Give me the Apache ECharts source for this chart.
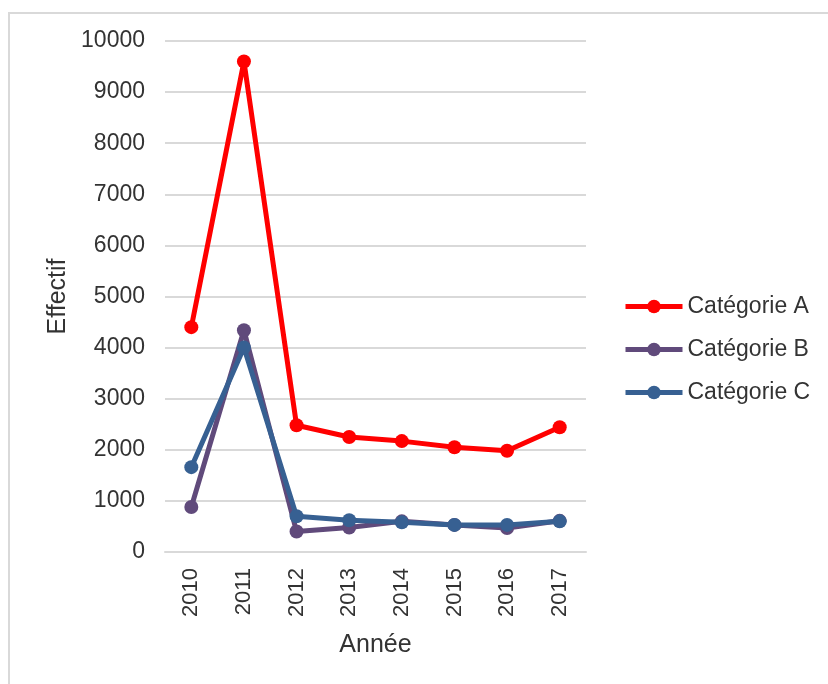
<!DOCTYPE html>
<html>
<head>
<meta charset="utf-8">
<script src="https://cdn.jsdelivr.net/npm/echarts@6/dist/echarts.min.js"></script>
<style>
  html, body { margin: 0; padding: 0; background: #fff; }
  #chart { width: 828px; height: 684px; }
</style>
</head>
<body>
<div id="chart"></div>
<script>
var years = ['2010', '2011', '2012', '2013', '2014', '2015', '2016', '2017'];
var serieA = [4400, 9600, 2480, 2250, 2170, 2050, 1980, 2440];
var serieB = [880, 4340, 400, 480, 600, 530, 470, 610];
var serieC = [1660, 4000, 700, 620, 580, 530, 530, 600];
var seriesNames = ['Catégorie A', 'Catégorie B', 'Catégorie C'];
var colors = ['#ff0000', '#604a7b', '#376092'];

var font = '"Liberation Sans", Arial, sans-serif';

function mkSerie(name, data) {
    return {
        name: name,
        type: 'line',
        data: data,
        symbol: 'circle',
        symbolSize: 14,
        lineStyle: { width: 5 },
        emphasis: { disabled: true }
    };
}

var chart = echarts.init(document.getElementById('chart'));
var option = {
    animation: false,
    color: colors,
    textStyle: { fontFamily: font, fontSize: 23, color: '#333333' },
    graphic: [{
        type: 'polyline',
        shape: { points: [[9, 684], [9, 13], [828, 13]] },
        style: { stroke: '#d9d9d9', lineWidth: 2, fill: null }
    }],
    grid: { left: 165, right: 242, top: 41, bottom: 132 },
    legend: {
        orient: 'vertical',
        left: 623,
        top: 295,
        padding: 0,
        itemWidth: 57,
        itemHeight: 17,
        itemGap: 20,
        lineStyle: { width: 5 },
        textStyle: { fontFamily: font, fontSize: 23, color: '#333333' },
        data: seriesNames
    },
    xAxis: {
        type: 'category',
        data: years,
        boundaryGap: true,
        name: 'Année',
        nameLocation: 'middle',
        nameGap: 81,
        nameTextStyle: { fontFamily: font, fontSize: 25, color: '#333333' },
        axisLine: { lineStyle: { color: '#d9d9d9', width: 2 } },
        axisTick: { show: false },
        axisLabel: { rotate: 90, margin: 16, fontFamily: font, fontSize: 22, color: '#333333' }
    },
    yAxis: {
        type: 'value',
        min: 0,
        max: 10000,
        interval: 1000,
        name: 'Effectif',
        nameLocation: 'middle',
        nameRotate: 90,
        nameGap: 73,
        nameTextStyle: { fontFamily: font, fontSize: 25, color: '#333333' },
        axisLine: { show: false },
        axisTick: { show: false },
        splitLine: { lineStyle: { color: '#d9d9d9', width: 2 } },
        axisLabel: { margin: 20, fontFamily: font, fontSize: 23, color: '#333333', formatter: function (v) { return String(v); } }
    },
    series: [
        mkSerie(seriesNames[0], serieA),
        mkSerie(seriesNames[1], serieB),
        mkSerie(seriesNames[2], serieC)
    ]
};
chart.setOption(option);
</script>
</body>
</html>
